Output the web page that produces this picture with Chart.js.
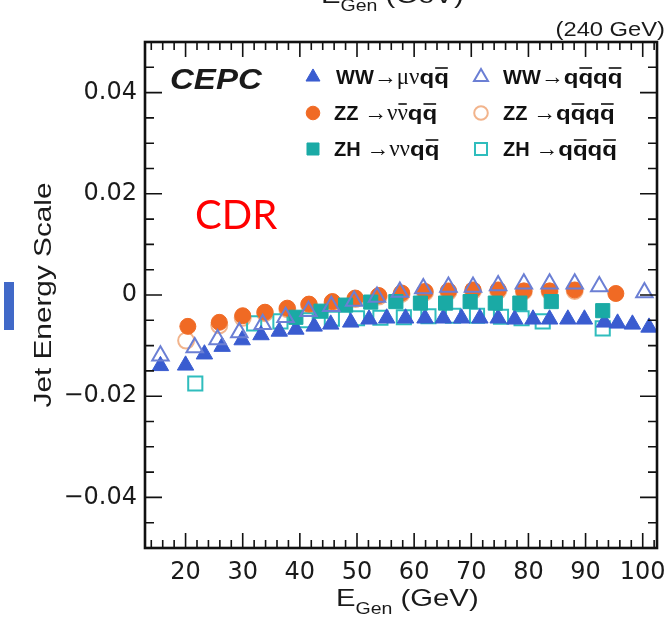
<!DOCTYPE html>
<html>
<head>
<meta charset="utf-8">
<script src="https://cdn.jsdelivr.net/npm/chart.js@4.4.0/dist/chart.umd.min.js"></script>
<style>
  body { margin: 0; background: #fff; }
</style>
</head>
<body>
<canvas id="jes" width="669" height="623"></canvas>
<script>
// axis ticks
const xTicks = [20, 30, 40, 50, 60, 70, 80, 90, 100];
const yTicks = [-0.04, -0.02, 0, 0.02, 0.04];

// WW -> mu nu q qbar (filled triangles)
const wwSemiE   = [15.6, 20.0, 23.3, 26.4, 29.9, 33.2, 36.4, 39.3, 42.5, 45.4, 48.9, 52.1, 55.2, 58.5, 61.9, 65.1, 68.3, 71.5, 74.7, 77.6, 80.8, 83.7, 86.9, 89.8, 93.3, 95.6, 98.2, 101.1];
const wwSemiJes = [-0.0140, -0.0139, -0.0117, -0.0102, -0.0089, -0.0079, -0.0072, -0.0068, -0.0062, -0.0058, -0.0054, -0.0048, -0.0046, -0.0046, -0.0046, -0.0046, -0.0046, -0.0046, -0.0046, -0.0048, -0.0048, -0.0048, -0.0048, -0.0048, -0.0054, -0.0056, -0.0058, -0.0064];

// WW -> q qbar q qbar (open triangles)
const wwHadE   = [15.6, 21.6, 25.6, 29.4, 33.5, 37.5, 41.5, 45.5, 49.5, 53.5, 57.5, 61.6, 66.0, 70.3, 74.7, 79.2, 83.7, 88.1, 92.4, 100.3];
const wwHadJes = [-0.0120, -0.0104, -0.0088, -0.0074, -0.0058, -0.0044, -0.0032, -0.0022, -0.0012, -0.0004, 0.0006, 0.0013, 0.0016, 0.0016, 0.0019, 0.0022, 0.0022, 0.0022, 0.0017, 0.0005];

// ZZ -> nu nubar q qbar (filled circles)
const zzInvE   = [20.4, 25.9, 30.0, 33.9, 37.8, 41.6, 45.7, 49.7, 53.8, 57.8, 61.9, 66.0, 70.3, 74.7, 79.2, 83.7, 88.1, 95.3];
const zzInvJes = [-0.0062, -0.0054, -0.0041, -0.0034, -0.0026, -0.0018, -0.0013, -0.0006, -0.0001, 0.0004, 0.0007, 0.0008, 0.0010, 0.0010, 0.0008, 0.0008, 0.0010, 0.0003];

// ZZ -> q qbar q qbar (open circles)
const zzHadE   = [20.1, 25.9, 30.0, 33.9, 37.8, 41.6, 45.7, 49.7, 53.8, 57.8, 61.9, 66.0, 70.3, 74.7, 79.2, 83.7, 88.1];
const zzHadJes = [-0.0090, -0.0060, -0.0045, -0.0036, -0.0028, -0.0020, -0.0015, -0.0008, -0.0003, 0.0002, 0.0005, 0.0006, 0.0008, 0.0008, 0.0007, 0.0007, 0.0008];

// ZH -> nu nu q qbar (filled squares)
const zhInvE   = [39.3, 43.7, 48.0, 52.4, 56.8, 61.1, 65.5, 69.8, 74.2, 78.5, 84.0, 93.0];
const zhInvJes = [-0.0044, -0.0032, -0.0020, -0.0014, -0.0013, -0.0016, -0.0016, -0.0013, -0.0016, -0.0016, -0.0013, -0.0031];

// ZH -> q qbar q qbar (open squares)
const zhHadE   = [21.7, 32.0, 36.6, 41.0, 45.6, 50.0, 54.1, 58.2, 62.5, 66.8, 71.0, 75.2, 78.8, 82.5, 93.0];
const zhHadJes = [-0.0175, -0.0056, -0.0052, -0.0050, -0.0047, -0.0046, -0.0045, -0.0044, -0.0042, -0.0041, -0.0041, -0.0043, -0.0046, -0.0052, -0.0066];

const toPoints = (xs, ys) => xs.map((x, i) => ({ x: x, y: ys[i] }));

// marker styles
const styles = {
  wwSemi: { pointStyle: 'triangle', radius: 9.5, fill: '#3a5cd0', stroke: '#3a5cd0', bw: 1 },
  wwHad:  { pointStyle: 'triangle', radius: 9.5, fill: 'rgba(0,0,0,0)', stroke: '#6b7fd4', bw: 2 },
  zzInv:  { pointStyle: 'circle', radius: 8, fill: '#f06a24', stroke: '#f06a24', bw: 1 },
  zzHad:  { pointStyle: 'circle', radius: 8, fill: 'rgba(0,0,0,0)', stroke: '#f2b48c', bw: 2 },
  zhInv:  { pointStyle: 'rect', radius: 10, fill: '#1aaaa5', stroke: '#1aaaa5', bw: 1 },
  zhHad:  { pointStyle: 'rect', radius: 10, fill: 'rgba(0,0,0,0)', stroke: '#2fbdbd', bw: 2 }
};

function makeDataset(key, xs, ys) {
  const s = styles[key];
  return {
    label: key,
    data: toPoints(xs, ys),
    pointStyle: s.pointStyle,
    pointRadius: s.radius,
    backgroundColor: s.fill,
    borderColor: s.stroke,
    borderWidth: s.bw,
    showLine: false
  };
}

// dataset 0 is drawn on top
const datasets = [
  makeDataset('wwHad', wwHadE, wwHadJes),
  makeDataset('zhInv', zhInvE, zhInvJes),
  makeDataset('wwSemi', wwSemiE, wwSemiJes),
  makeDataset('zzInv', zzInvE, zzInvJes),
  makeDataset('zhHad', zhHadE, zhHadJes),
  makeDataset('zzHad', zzHadE, zzHadJes)
];

// legend text pieces: [text, font, overbar, stretch]
const B = 'bold 20px "Liberation Sans"';
const S = '23px "Liberation Serif"';
const qq = [['q', B, false, 1.2], ['q', B, true, 1.2]];
const legendItems = [
  { key: 'wwSemi', mx: 313, my: 77,  tx: 336, ty: 84,  segs: [['WW', B], ['\u2192\u03bc\u03bd', S]].concat(qq) },
  { key: 'wwHad',  mx: 481, my: 77,  tx: 503, ty: 84,  segs: [['WW', B], ['\u2192', S]].concat(qq, qq) },
  { key: 'zzInv',  mx: 313, my: 113, tx: 334, ty: 120, segs: [['ZZ ', B], ['\u2192\u03bd', S], ['\u03bd', S, true]].concat(qq) },
  { key: 'zzHad',  mx: 481, my: 113, tx: 503, ty: 120, segs: [['ZZ ', B], ['\u2192', S]].concat(qq, qq) },
  { key: 'zhInv',  mx: 313, my: 149, tx: 334, ty: 156, segs: [['ZH ', B], ['\u2192\u03bd\u03bd', S]].concat(qq) },
  { key: 'zhHad',  mx: 481, my: 149, tx: 503, ty: 156, segs: [['ZH ', B], ['\u2192', S]].concat(qq, qq) }
];

function stretchText(ctx, s, x, y, font, sx, align) {
  ctx.save();
  ctx.font = font;
  ctx.textAlign = align || 'left';
  ctx.textBaseline = 'alphabetic';
  ctx.translate(x, y);
  ctx.scale(sx, 1);
  ctx.fillText(s, 0, 0);
  ctx.restore();
  ctx.font = font;
  return ctx.measureText(s).width * sx;
}

// E_Gen (GeV) with subscript, starting at x
function drawEGen(ctx, x, y) {
  const sx = 1.22;
  x += stretchText(ctx, 'E', x, y, '24px "Liberation Sans"', sx);
  x += stretchText(ctx, 'Gen', x, y + 8, '16px "Liberation Sans"', sx);
  stretchText(ctx, ' (GeV)', x, y, '24px "Liberation Sans"', sx);
}

const decor = {
  id: 'decor',
  afterDraw(chart) {
    const ctx = chart.ctx;
    const a = chart.chartArea;
    const xs = chart.scales.x;
    const ys = chart.scales.y;
    ctx.save();

    // inward ticks on all four sides
    ctx.strokeStyle = '#111';
    ctx.lineWidth = 1.6;
    ctx.beginPath();
    for (let v = 14; v <= 102; v += 2) {
      const px = xs.getPixelForValue(v);
      const len = v % 10 === 0 ? 15 : 8;
      ctx.moveTo(px, a.bottom); ctx.lineTo(px, a.bottom - len);
      ctx.moveTo(px, a.top); ctx.lineTo(px, a.top + len);
    }
    for (let k = -10; k <= 10; k++) {
      const py = ys.getPixelForValue(k * 0.005);
      const len = k % 4 === 0 ? 17 : 9;
      ctx.moveTo(a.left, py); ctx.lineTo(a.left + len, py);
      ctx.moveTo(a.right, py); ctx.lineTo(a.right - len, py);
    }
    ctx.stroke();

    // frame
    ctx.lineWidth = 2.6;
    ctx.strokeRect(a.left, a.top, a.right - a.left, a.bottom - a.top);

    // texts
    ctx.fillStyle = '#1a1a1a';
    drawEGen(ctx, 336, 606);
    drawEGen(ctx, 321, 3);
    stretchText(ctx, '(240 GeV)', 665, 36, '21px "Liberation Sans"', 1.13, 'right');
    stretchText(ctx, 'CEPC', 170, 89, 'italic bold 29px "Liberation Sans"', 1.14);

    ctx.save();
    ctx.translate(51, 295);
    ctx.rotate(-Math.PI / 2);
    stretchText(ctx, 'Jet Energy Scale', 0, 0, '24px "Liberation Sans"', 1.24, 'center');
    ctx.restore();

    ctx.fillStyle = '#ff0000';
    stretchText(ctx, 'CDR', 195, 229, '40px Lato', 1.0);

    // blue side tab
    ctx.fillStyle = '#4169c8';
    ctx.fillRect(4, 282, 10, 48);

    // legend
    legendItems.forEach(item => {
      const s = styles[item.key];
      ctx.fillStyle = s.fill;
      ctx.strokeStyle = s.stroke;
      ctx.lineWidth = s.bw;
      Chart.helpers.drawPoint(ctx, {
        pointStyle: s.pointStyle,
        radius: s.radius * 0.85,
        borderWidth: s.bw,
        rotation: 0
      }, item.mx, item.my);
      let x = item.tx;
      ctx.fillStyle = '#111';
      ctx.strokeStyle = '#111';
      item.segs.forEach(seg => {
        const w = stretchText(ctx, seg[0], x, item.ty, seg[1], seg[3] || 1.0);
        if (seg[2]) {
          ctx.lineWidth = 1.6;
          ctx.beginPath();
          ctx.moveTo(x + 1, item.ty - 16);
          ctx.lineTo(x + w - 1, item.ty - 16);
          ctx.stroke();
        }
        x += w;
      });
    });

    ctx.restore();
  }
};

const fmtY = v => v === 0 ? '0' : (v < 0 ? '\u2212' : '') + Math.abs(v).toFixed(2);

new Chart(document.getElementById('jes').getContext('2d'), {
  type: 'scatter',
  data: { datasets: datasets },
  options: {
    responsive: false,
    animation: false,
    devicePixelRatio: 1,
    layout: { padding: { left: 0, right: 10, top: 42, bottom: 0 } },
    plugins: {
      legend: { display: false },
      tooltip: { enabled: false }
    },
    scales: {
      x: {
        type: 'linear',
        min: 12.9,
        max: 102.5,
        afterBuildTicks: scale => { scale.ticks = xTicks.map(v => ({ value: v })); },
        afterFit: scale => { scale.height = 75; scale.paddingLeft = 0; scale.paddingRight = 0; },
        grid: { display: false, drawTicks: false },
        border: { display: false },
        ticks: {
          font: { family: 'DejaVu Sans', size: 24 },
          color: '#1a1a1a',
          padding: 10,
          maxRotation: 0,
          autoSkip: false
        }
      },
      y: {
        type: 'linear',
        min: -0.05,
        max: 0.05,
        afterBuildTicks: scale => { scale.ticks = yTicks.map(v => ({ value: v })); },
        afterFit: scale => { scale.width = 145; scale.paddingTop = 0; scale.paddingBottom = 0; },
        grid: { display: false, drawTicks: false },
        border: { display: false },
        ticks: {
          font: { family: 'DejaVu Sans', size: 24 },
          color: '#1a1a1a',
          padding: 8,
          autoSkip: false,
          callback: fmtY
        }
      }
    }
  },
  plugins: [decor]
});
</script>
</body>
</html>
